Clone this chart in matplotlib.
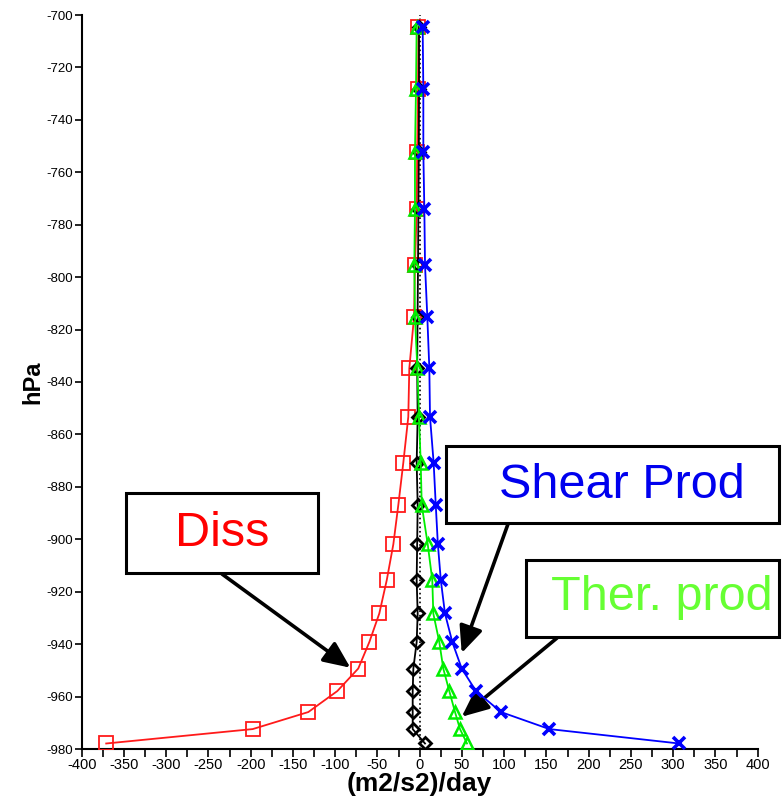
import matplotlib.pyplot as plt
from matplotlib.patches import Rectangle

plt.rcParams['font.family'] = ['Liberation Sans', 'DejaVu Sans']
plt.rcParams['axes.unicode_minus'] = False

# pressure levels (hPa, negative so the surface is at the bottom)
levels = [-704.5, -728.3, -752.2, -774.1, -795.4, -815.1, -834.8, -853.3,
          -870.8, -886.9, -901.9, -915.6, -928.3, -939.2, -949.3, -957.9,
          -965.9, -972.4, -977.9]

diss = [-1.5, -2.0, -3.0, -3.5, -5.6, -6.7, -12.3, -13.5, -19.4, -25.3,
        -31.2, -39.0, -47.8, -59.6, -72.7, -97.5, -131.8, -197.6, -371.0]
ther_prod = [-3.6, -4.4, -5.6, -5.6, -6.4, -5.6, -2.8, -0.8, 1.2, 2.4,
             9.5, 14.9, 16.1, 23.2, 27.9, 35.0, 41.8, 47.7, 56.0]
shear_prod = [3.5, 4.3, 4.3, 5.5, 6.3, 9.0, 11.4, 12.2, 16.5, 19.0,
              21.5, 25.0, 29.9, 38.6, 49.7, 66.6, 96.2, 153.4, 307.0]
total = [-0.8, -0.8, -1.0, -1.5, -2.0, -2.5, -3.0, -2.4, -3.6, -2.4,
         -3.0, -3.6, -2.4, -3.6, -7.5, -8.3, -8.3, -8.3, 6.3]

W, H = 782, 801


def fig_xy(px, py):
    return px / W, 1 - py / H


def draw_box(fig, x0, y0, x1, y1):
    fx0, fy1 = fig_xy(x0, y0)
    fx1, fy0 = fig_xy(x1, y1)
    fig.patches.append(Rectangle((fx0, fy0), fx1 - fx0, fy1 - fy0,
                                 transform=fig.transFigure, fill=False,
                                 edgecolor='black', lw=2.2, clip_on=False))


def main():
    fig = plt.figure(figsize=(W / 100, H / 100), dpi=100)
    ax = fig.add_axes([81.7 / W, 1 - 749 / H, (757.7 - 81.7) / W, (749 - 15) / H])

    ax.axvline(0, color='black', ls=':', lw=1.2, zorder=1)
    ax.plot(diss, levels, color='#ff1a1a', lw=1.3, marker='s', ms=9.5,
            mfc='none', mew=1.3, zorder=3)
    ax.plot(total, levels, color='black', lw=1.3, marker='D', ms=6.5,
            mfc='none', mew=2.0, zorder=3)
    ax.plot(ther_prod, levels, color='#00ee00', lw=1.3, marker='^', ms=8.5,
            mfc='none', mew=1.8, zorder=4)
    ax.plot(shear_prod, levels, color='#0000ff', lw=1.3, marker='x', ms=9,
            mew=2.6, zorder=4)

    ax.set_xlim(-400, 400)
    ax.set_ylim(-980, -700)
    ax.set_xticks(range(-400, 401, 50))
    ax.set_xticks(range(-375, 400, 50), minor=True)
    ax.set_yticks(range(-980, -699, 20))
    for s in ['top', 'right']:
        ax.spines[s].set_visible(False)
    for s in ['left', 'bottom']:
        ax.spines[s].set_linewidth(1.5)
    ax.tick_params(axis='x', which='both', length=6, width=1.2, pad=0.5,
                   labelsize=10.5)
    ax.tick_params(axis='y', length=5, width=1.2, pad=1, labelsize=9.5)

    ax.set_xlabel('(m2/s2)/day', fontsize=19, fontweight='bold', labelpad=0)
    ax.set_ylabel('hPa', fontsize=17, fontweight='bold', labelpad=2)

    # annotation boxes
    draw_box(fig, 126, 493, 318, 573)
    draw_box(fig, 446, 446, 779, 523)
    draw_box(fig, 526, 560, 779, 637)
    fig.text(*fig_xy(222, 533), 'Diss', color='#ff0000', fontsize=35,
             ha='center', va='center')
    fig.text(*fig_xy(622, 485), 'Shear Prod', color='#0000ee', fontsize=35,
             ha='center', va='center')
    fig.text(*fig_xy(662, 598), 'Ther. prod', color='#66ff33', fontsize=35,
             ha='center', va='center')

    arrow = dict(arrowstyle='-|>,head_length=0.9,head_width=0.4',
                 color='black', lw=2.6, mutation_scale=18, shrinkA=0, shrinkB=0)
    ax.annotate('', xy=(-82, -949), xytext=fig_xy(222, 574),
                textcoords='figure fraction', arrowprops=arrow)
    ax.annotate('', xy=(49.7, -943.4), xytext=fig_xy(508, 524),
                textcoords='figure fraction', arrowprops=arrow)
    ax.annotate('', xy=(49.7, -967.7), xytext=fig_xy(557, 638),
                textcoords='figure fraction', arrowprops=arrow)

    fig.savefig('out.png', dpi=100)


if __name__ == "__main__":
    main()
